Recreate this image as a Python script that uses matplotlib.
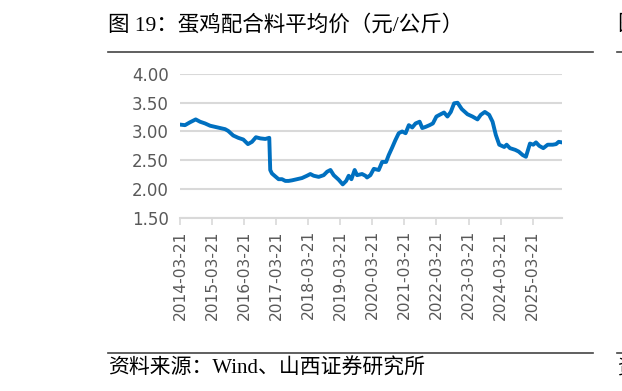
import matplotlib
matplotlib.use("Agg")
import matplotlib.pyplot as plt
import matplotlib.dates as mdates
import pandas as pd

plt.rcParams['font.family'] = ['Liberation Serif', 'Noto Sans CJK SC', 'DejaVu Sans']

title = "图 19：蛋鸡配合料平均价（元/公斤）"
source = "资料来源：Wind、山西证券研究所"

dates = [
    "2014-03-21", "2014-05-17", "2014-07-13", "2014-09-16", "2014-11-04", "2014-12-31",
    "2015-02-27", "2015-04-25", "2015-06-21", "2015-08-17", "2015-09-21", "2015-11-17",
    "2016-01-13", "2016-03-11", "2016-05-03", "2016-06-18", "2016-08-02", "2016-09-21",
    "2016-11-17", "2017-01-01", "2017-01-12", "2017-01-31", "2017-03-02", "2017-04-17",
    "2017-05-26", "2017-07-03", "2017-08-09", "2017-09-17", "2017-11-13", "2018-01-09",
    "2018-03-07", "2018-04-14", "2018-05-22", "2018-07-18", "2018-09-13", "2018-10-22",
    "2018-11-29", "2019-01-05", "2019-03-03", "2019-04-18", "2019-05-27", "2019-06-25",
    "2019-07-26", "2019-09-01", "2019-09-28", "2019-11-24", "2020-01-01", "2020-01-20",
    "2020-02-27", "2020-04-06", "2020-06-01", "2020-07-10", "2020-08-24", "2020-09-23",
    "2020-11-01", "2020-12-08", "2021-01-15", "2021-02-23", "2021-04-03", "2021-05-10",
    "2021-06-18", "2021-07-26", "2021-09-10", "2021-10-10", "2021-11-17", "2022-01-01",
    "2022-02-08", "2022-03-20", "2022-05-08", "2022-06-15", "2022-07-24", "2022-08-31",
    "2022-10-08", "2022-11-16", "2023-01-03", "2023-03-09", "2023-05-05", "2023-07-01",
    "2023-08-08", "2023-09-23", "2023-11-11", "2023-12-20", "2024-01-26", "2024-03-05",
    "2024-05-01", "2024-05-28", "2024-07-05", "2024-09-04", "2024-10-13", "2024-11-27",
    "2025-01-03", "2025-02-18", "2025-03-28", "2025-04-28", "2025-06-04", "2025-07-20",
    "2025-09-08", "2025-11-04", "2025-12-12", "2026-01-11", "2026-02-18",
]
prices = [
    3.12, 3.11, 3.16, 3.21, 3.17, 3.14,
    3.10, 3.08, 3.06, 3.04, 3.01, 2.93,
    2.89, 2.86, 2.78, 2.82, 2.90, 2.88,
    2.87, 2.89, 2.33, 2.27, 2.23, 2.17,
    2.17, 2.14, 2.14, 2.15, 2.17, 2.19,
    2.23, 2.26, 2.23, 2.21, 2.24, 2.30,
    2.33, 2.24, 2.16, 2.08, 2.14, 2.23,
    2.17, 2.33, 2.24, 2.26, 2.23, 2.20,
    2.24, 2.35, 2.33, 2.47, 2.47, 2.59,
    2.72, 2.85, 2.97, 3.00, 2.97, 3.11,
    3.07, 3.14, 3.17, 3.06, 3.08, 3.11,
    3.14, 3.26, 3.30, 3.33, 3.26, 3.34,
    3.49, 3.50, 3.39, 3.30, 3.26, 3.21,
    3.29, 3.34, 3.29, 3.17, 2.94, 2.77,
    2.73, 2.77, 2.71, 2.68, 2.65, 2.59,
    2.56, 2.79, 2.77, 2.81, 2.75, 2.71,
    2.77, 2.77, 2.78, 2.82, 2.81,
]
tick_labels = ["2014-03-21", "2015-03-21", "2016-03-21", "2017-03-21", "2018-03-21",
               "2019-03-21", "2020-03-21", "2021-03-21", "2022-03-21", "2023-03-21",
               "2024-03-21", "2025-03-21"]
y_ticks = [1.50, 2.00, 2.50, 3.00, 3.50, 4.00]

x = pd.to_datetime(dates)
xt = pd.to_datetime(tick_labels)

fig = plt.figure(figsize=(6.22, 3.91), dpi=100)
ax = fig.add_axes([180/622, 1-217.7/391, (562-180)/622, (217.7-74)/391])

ax.plot(x, prices, color="#0070C0", lw=2.8, solid_joinstyle="round", zorder=3)
ax.set_xlim(x[0], x[-1])
ax.set_ylim(1.5, 4.0)
ax.set_yticks(y_ticks)
ax.set_yticklabels([f"{v:.2f}" for v in y_ticks])
ax.set_xticks(xt)
ax.set_xticklabels(tick_labels, rotation=90)
ax.grid(axis="y", color="#d9d9d9", lw=1.5, zorder=0)
for s in ["top", "right", "left"]:
    ax.spines[s].set_visible(False)
ax.spines["bottom"].set_color("#d9d9d9")
ax.spines["bottom"].set_linewidth(1.5)
ax.tick_params(axis="y", length=0, pad=8, labelsize=12, labelcolor="#595959")
ax.tick_params(axis="x", length=5, width=1.2, color="#d9d9d9", pad=4,
               labelsize=11.2, labelcolor="#595959")
for lab in ax.get_xticklabels() + ax.get_yticklabels():
    lab.set_family("DejaVu Sans")

fig.text(108/622, 1-25/391, title, fontsize=15.5, va="center", ha="left")
fig.text(108/622, 1-369/391, source, fontsize=15, va="center", ha="left")
fig.add_artist(plt.Line2D([108/622, 593/622], [1-52/391, 1-52/391], color="#444444", lw=1.2))
fig.add_artist(plt.Line2D([108/622, 593/622], [1-353/391, 1-353/391], color="#444444", lw=1.2))
# neighbouring chart edge
fig.add_artist(plt.Line2D([617/622, 1.0], [1-52/391, 1-52/391], color="#444444", lw=1.2))
fig.add_artist(plt.Line2D([617/622, 1.0], [1-353/391, 1-353/391], color="#444444", lw=1.2))
fig.text(617/622, 1-25/391, "图", fontsize=15.5, va="center", ha="left")
fig.text(617/622, 1-369/391, "资", fontsize=15, va="center", ha="left")

fig.savefig("out.png", dpi=100)
